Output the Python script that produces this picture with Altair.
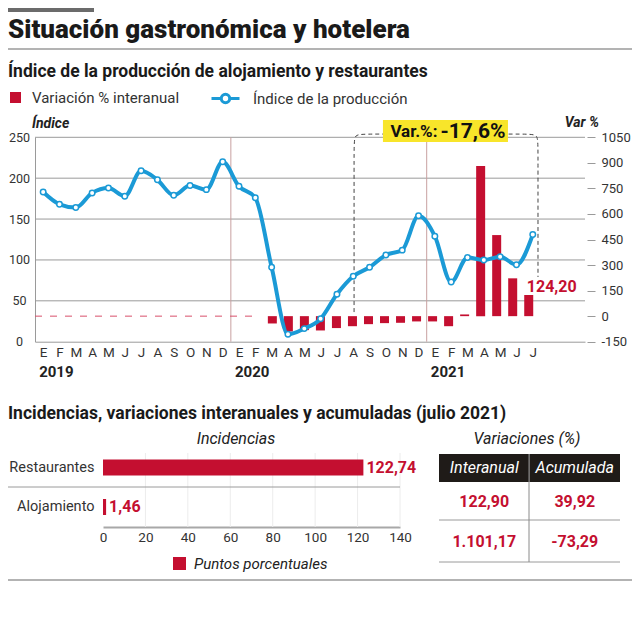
import altair as alt
import pandas as pd

# ---------------- data ----------------
month_letters = ["E", "F", "M", "A", "M", "J", "J", "A", "S", "O", "N", "D"]
year_labels = ["2019", "2020", "2021"]
indice_produccion = [183, 168, 164, 182, 188, 178, 209, 198, 179, 191, 186, 220,
                     190, 176, 91, 9, 16, 28, 58, 80, 91, 106, 112, 154,
                     129, 73, 103, 100, 104, 94, 131]
variacion_interanual = [None] * 14 + [-43, -90, -82, -84, -70, -59, -47, -41, -39, -31,
                                      -31, -59, 10, 882, 476, 222, 124.2]
indice_ticks = [0, 50, 100, 150, 200, 250]
variacion_ticks = [-150, 0, 150, 300, 450, 600, 750, 900, 1050]
ultima_variacion_texto = "124,20"
var_periodo_prefijo = "Var.%:"
var_periodo_texto = "-17,6%"

incid_categorias = ["Restaurantes", "Alojamiento"]
incid_valores = [122.74, 1.46]
incid_textos = ["122,74", "1,46"]
incid_ticks = [0, 20, 40, 60, 80, 100, 120, 140]

tabla_columnas = ["Interanual", "Acumulada"]
tabla_interanual = ["122,90", "1.101,17"]
tabla_acumulada = ["39,92", "-73,29"]

# ---------------- style / layout ----------------
FONT = "Roboto, 'Noto Sans', sans-serif"
RED = "#c40f30"
BLUE = "#1b9ad6"
YELLOW = "#f8e52a"
TEXT = "#222222"
AXISC = "#333333"
GRID = "#9a9a9a"
W, H = 624, 624

X_RANGE = [27, 577]
Y_RANGE = [333.7, 129.3]
XS = alt.Scale(domain=[-0.5, 33.2], range=X_RANGE, nice=False, zero=False)
YL = alt.Scale(domain=[0, 250], range=Y_RANGE, nice=False, zero=False)
YV = alt.Scale(domain=[-150, 1050], range=Y_RANGE, nice=False, zero=False)

XI = alt.Scale(domain=[0, 140], range=[95, 392], nice=False, zero=False)
YI = alt.Scale(domain=incid_categorias, range=[439.75, 518.75], paddingInner=0.595, paddingOuter=0.2975)
XT = alt.Scale(domain=tabla_columnas, range=[431, 612], paddingInner=0, paddingOuter=0)
YT = alt.Scale(domain=incid_categorias, range=[474, 554], paddingInner=0, paddingOuter=0)

# annotation geometry (chart units)
SEPARADORES = [11.5, 23.5]
TRAZO_2019 = (-0.5, 13.2, 0)
BRACKET_X = [19.05, 19.05, 19.05, 19.8, 29.6, 30.32, 30.32, 30.32]
BRACKET_Y = [24, 1000, 1069, 1069, 1069, 1069, 1000, 230]
CAJA = (20.82, 28.48, 1022, 1152)
CAJA_TEXTO = (24.22, 1081)

AX = dict(labelFont=FONT, labelColor=AXISC, title=None, grid=False)
PLAIN_NUM = "'' + datum.value"


def label(text, x, y, size, weight="normal", style="normal", color=TEXT,
          align="left", baseline="middle"):
    return alt.Chart(pd.DataFrame({"t": [text]})).mark_text(
        font=FONT, fontSize=size, fontWeight=weight, fontStyle=style, color=color,
        align=align, baseline=baseline).encode(x=alt.value(x), y=alt.value(y), text="t:N")


def deco_rule(x, x2, y, y2, color, width=1.0):
    return alt.Chart(pd.DataFrame({"k": [0]})).mark_rule(color=color, strokeWidth=width).encode(
        x=alt.value(x), x2=alt.value(x2), y=alt.value(y), y2=alt.value(y2))


def deco_rect(x, x2, y, y2, color):
    return alt.Chart(pd.DataFrame({"k": [0]})).mark_rect(color=color).encode(
        x=alt.value(x), x2=alt.value(x2), y=alt.value(y), y2=alt.value(y2))


n = len(indice_produccion)
df_main = pd.DataFrame({"i": list(range(n)), "indice": indice_produccion,
                        "var": variacion_interanual})
df_main["serie_l"] = "Índice de la producción"
df_bars = df_main.dropna(subset=["var"]).copy()
df_bars["serie_b"] = "Variación % interanual"
df_last = df_bars.tail(1).copy()
df_last["t"] = ultima_variacion_texto
df_years = pd.DataFrame({"i": [12 * k for k in range(len(year_labels))], "year": year_labels})
month_expr = "[" + ",".join("'%s'" % m for m in month_letters) + "][datum.value % 12]"

layers = []

# ---------- header ----------
layers += [
    deco_rect(0, 86, 0, 4, "#6b6b6b"),
    label("Situación gastronómica y hotelera", 0, 30, 26, weight=900, color="#1a1a1a",
          baseline="alphabetic"),
    deco_rule(0, W, 41, 41, "#9a9a9a", 1.5),
    label("Índice de la producción de alojamiento y restaurantes", 0, 69, 17.5, weight="bold",
          color="#1a1a1a", baseline="alphabetic"),
]

# ---------- main chart ----------
grid = alt.Chart(pd.DataFrame({"v": indice_ticks[1:]})).mark_rule(color=GRID, strokeWidth=1).encode(
    y=alt.Y("v:Q", scale=YL, axis=alt.Axis(orient="left", offset=-X_RANGE[0], values=indice_ticks,
                                           ticks=False, domain=True, domainColor=GRID,
                                           labelAlign="center", labelPadding=16, labelFontSize=12.5,
                                           labelExpr=PLAIN_NUM, **AX)),
    x=alt.value(X_RANGE[0]), x2=alt.value(X_RANGE[1]))

seps = alt.Chart(pd.DataFrame({"x": SEPARADORES})).mark_rule(color="#c8a0a0", strokeWidth=1).encode(
    x=alt.X("x:Q", scale=XS, axis=None), y=alt.value(Y_RANGE[1]), y2=alt.value(Y_RANGE[0]))

dash2019 = alt.Chart(pd.DataFrame({"x": [TRAZO_2019[0]], "x2": [TRAZO_2019[1]], "y": [TRAZO_2019[2]]})).mark_rule(
    color="#d9506a", strokeWidth=1, strokeDash=[7, 8]).encode(
    x=alt.X("x:Q", scale=XS, axis=None), x2="x2:Q", y=alt.Y("y:Q", scale=YV, axis=None))

bracket = alt.Chart(pd.DataFrame({"x": BRACKET_X, "y": BRACKET_Y, "k": list(range(len(BRACKET_X)))})).mark_line(
    interpolate="basis", strokeDash=[4, 3], color="#444444", strokeWidth=1).encode(
    x=alt.X("x:Q", scale=XS, axis=None), y=alt.Y("y:Q", scale=YV, axis=None), order="k:Q")

bars = alt.Chart(df_bars).mark_bar(size=9, orient="vertical").encode(
    x=alt.X("i:Q", scale=XS, axis=None),
    y=alt.Y("var:Q", scale=YV, axis=alt.Axis(orient="right", offset=-45, values=variacion_ticks,
                                             ticks=True, tickSize=8, tickColor=GRID, domain=False,
                                             labelAlign="left", labelPadding=6, labelFontSize=13,
                                             labelExpr=PLAIN_NUM, **AX)),
    color=alt.Color("serie_b:N", scale=alt.Scale(range=[RED]),
                    legend=alt.Legend(orient="none", legendX=0, legendY=82, title=None,
                                      symbolType="square", symbolSize=121, symbolStrokeWidth=0,
                                      labelFont=FONT, labelFontSize=15, labelColor="#333",
                                      labelOffset=9, padding=0, labelLimit=300)))

line = alt.Chart(df_main).mark_line(interpolate="monotone", strokeWidth=4).encode(
    x=alt.X("i:Q", scale=XS, axis=alt.Axis(orient="bottom", offset=-(H - Y_RANGE[0]), values=list(range(n)),
                                           labelExpr=month_expr, ticks=False, domain=True, domainColor=GRID,
                                           labelPadding=4, labelFontSize=13.5, labelFlush=False,
                                           labelOverlap=False, **AX)),
    y=alt.Y("indice:Q", scale=YL, axis=None),
    stroke=alt.Stroke("serie_l:N", scale=alt.Scale(range=[BLUE]),
                      legend=alt.Legend(orient="none", legendX=202, legendY=75, title=None,
                                        symbolType="M-1,0L-0.3,0M0.3,0L1,0M0.3,0A0.3,0.3 0 1,1 -0.3,0A0.3,0.3 0 1,1 0.3,0",
                                        symbolSize=784, symbolStrokeWidth=3, symbolFillColor="white",
                                        labelFont=FONT, labelFontSize=15, labelColor="#333",
                                        labelOffset=12, padding=0, labelLimit=300)))

pts = alt.Chart(df_main).mark_circle(size=30, fill="white", stroke=BLUE, strokeWidth=1.5, opacity=1).encode(
    x=alt.X("i:Q", scale=XS, axis=None), y=alt.Y("indice:Q", scale=YL, axis=None))

caja = alt.Chart(pd.DataFrame({"x": [CAJA[0]], "x2": [CAJA[1]], "y": [CAJA[2]], "y2": [CAJA[3]]})).mark_rect(
    color=YELLOW).encode(x=alt.X("x:Q", scale=XS, axis=None), x2="x2:Q",
                         y=alt.Y("y:Q", scale=YV, axis=None), y2="y2:Q")
caja_df = pd.DataFrame({"x": [CAJA_TEXTO[0]], "y": [CAJA_TEXTO[1]],
                        "a": [var_periodo_prefijo], "b": [var_periodo_texto]})
caja_t1 = alt.Chart(caja_df).mark_text(font=FONT, fontSize=17, fontWeight="bold", color="#111",
                                       align="right", baseline="middle", dx=-1).encode(
    x=alt.X("x:Q", scale=XS, axis=None), y=alt.Y("y:Q", scale=YV, axis=None), text="a:N")
caja_t2 = alt.Chart(caja_df).mark_text(font=FONT, fontSize=21, fontWeight="bold", color="#111",
                                       align="left", baseline="middle", dx=2).encode(
    x=alt.X("x:Q", scale=XS, axis=None), y=alt.Y("y:Q", scale=YV, axis=None), text="b:N")

last_lbl = alt.Chart(df_last).mark_text(font=FONT, fontSize=16, fontWeight="bold", color=RED,
                                        align="left", baseline="middle", dx=-6, dy=-8).encode(
    x=alt.X("i:Q", scale=XS, axis=None), y=alt.Y("var:Q", scale=YV, axis=None), text="t:N")

years = alt.Chart(df_years).mark_text(font=FONT, fontSize=15, fontWeight="bold", color=TEXT,
                                      align="left", baseline="middle", dx=-4).encode(
    x=alt.X("i:Q", scale=XS, axis=None), y=alt.value(364), text="year:N")

layers += [grid, seps, dash2019, bracket, bars, line, pts, caja, caja_t1, caja_t2, last_lbl, years,
           label("Índice", 24, 116, 14, weight="bold", style="italic"),
           label("Var %", 591, 115, 14, weight="bold", style="italic", align="right")]

# ---------- bottom section ----------
df_inc = pd.DataFrame({"cat": incid_categorias, "v": incid_valores, "t": incid_textos})
df_inc["serie"] = "Puntos porcentuales"

inc_grid = alt.Chart(pd.DataFrame({"v": incid_ticks[1:]})).mark_rule(color="#ececec", strokeWidth=1).encode(
    x=alt.X("v:Q", scale=XI, axis=None), y=alt.value(445), y2=alt.value(519))

inc_bars = alt.Chart(df_inc).mark_bar().encode(
    x=alt.X("v:Q", scale=XI, axis=alt.Axis(orient="bottom", offset=-(H - 519), values=incid_ticks,
                                           ticks=False, domain=True, domainColor="#a8a8a8", domainWidth=2,
                                           labelPadding=3, labelFontSize=13.5, labelFlush=False, **AX)),
    y=alt.Y("cat:N", scale=YI, sort=incid_categorias,
            axis=alt.Axis(orient="left", offset=-95, domain=False, ticks=False, labelPadding=9,
                          labelFontSize=14.5, labelLimit=200, **AX)),
    color=alt.Color("serie:N", scale=alt.Scale(range=[RED]),
                    legend=alt.Legend(orient="none", legendX=164, legendY=548, title=None,
                                      symbolType="square", symbolSize=169, symbolStrokeWidth=0,
                                      labelFont=FONT, labelFontSize=15, labelFontStyle="italic",
                                      labelColor="#222", labelOffset=7, padding=0, labelLimit=300)))

inc_lbl = alt.Chart(df_inc).mark_text(font=FONT, fontSize=16, fontWeight="bold", color=RED,
                                      align="left", baseline="middle", dx=3).encode(
    x=alt.X("v:Q", scale=XI, axis=None), y=alt.Y("cat:N", scale=YI, sort=incid_categorias, axis=None),
    text="t:N")

df_head = pd.DataFrame({"col": tabla_columnas})
head_rect = alt.Chart(df_head).mark_rect(color="#1f1b18").encode(
    x=alt.X("col:N", scale=XT, sort=tabla_columnas, axis=None), y=alt.value(446), y2=alt.value(474))
head_txt = alt.Chart(df_head).mark_text(font=FONT, fontSize=16, fontStyle="italic", color="white",
                                        baseline="middle").encode(
    x=alt.X("col:N", scale=XT, sort=tabla_columnas, axis=None), y=alt.value(460), text="col:N")

df_tab = pd.DataFrame({
    "col": [tabla_columnas[0]] * len(incid_categorias) + [tabla_columnas[1]] * len(incid_categorias),
    "row": incid_categorias * 2,
    "t": tabla_interanual + tabla_acumulada})
tab_txt = alt.Chart(df_tab).mark_text(font=FONT, fontSize=16, fontWeight="bold", color=RED,
                                      baseline="middle").encode(
    x=alt.X("col:N", scale=XT, sort=tabla_columnas, axis=None),
    y=alt.Y("row:N", scale=YT, sort=incid_categorias, axis=None), text="t:N")

layers += [
    label("Incidencias, variaciones interanuales y acumuladas (julio 2021)", 0, 411, 17.5,
          weight="bold", color="#1a1a1a", baseline="alphabetic"),
    label("Incidencias", 228, 431, 16, style="italic", align="center"),
    label("Variaciones (%)", 519, 431, 16, style="italic", align="center"),
    inc_grid,
    deco_rule(0, 392, 479, 479, "#9a9a9a", 1),
    inc_bars, inc_lbl,
    head_rect, head_txt, tab_txt,
    deco_rule(431, 612, 512, 512, "#9a9a9a", 1),
    deco_rule(431, 612, 554, 554, "#9a9a9a", 1),
    deco_rule(521, 521, 446, 554, "#8a8a8a", 1),
    deco_rule(0, W, 572, 572, "#9a9a9a", 1.5),
]

chart = alt.layer(*layers).resolve_scale(
    x="independent", y="independent", color="independent", stroke="independent"
).properties(
    width=W, height=H, padding=0, background="white",
    autosize=alt.AutoSizeParams(type="none"),
).configure_view(stroke=None)

chart.save("out.html", embed_options={"renderer": "svg", "actions": False})
